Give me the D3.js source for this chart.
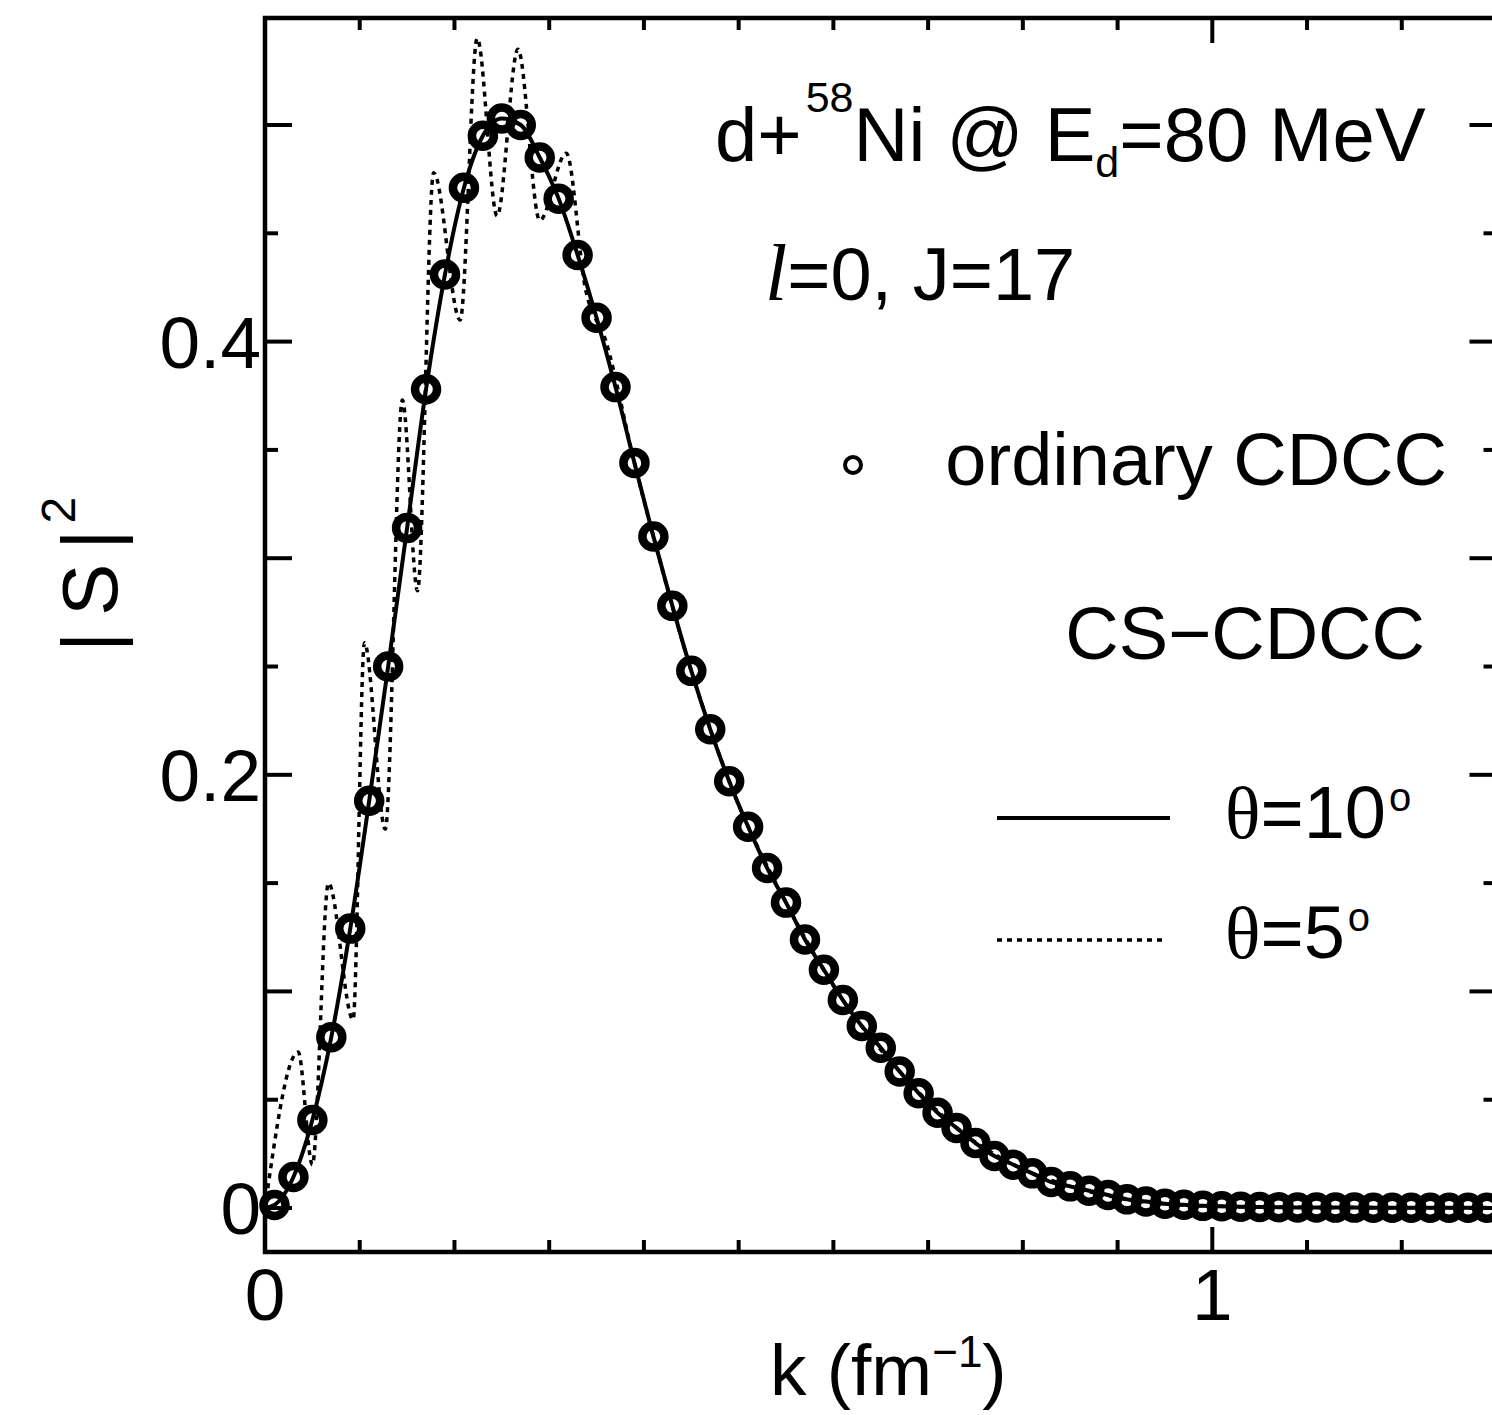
<!DOCTYPE html>
<html>
<head>
<meta charset="utf-8">
<script src="https://cdn.jsdelivr.net/npm/d3@7"></script>
<style>
  body { margin: 0; background: #fff; }
  svg { display: block; font-family: "Liberation Sans", Arial, sans-serif; }
</style>
</head>
<body>
<svg id="chart" width="1492" height="1415"></svg>
<script>
// k grid of the ordinary CDCC points (fm^-1)
const kGrid = [
  0.01, 0.03, 0.05, 0.07, 0.09, 0.11, 0.13, 0.15, 0.17, 0.19,
  0.21, 0.23, 0.25, 0.27, 0.29, 0.31, 0.33, 0.35, 0.37, 0.39,
  0.41, 0.43, 0.45, 0.47, 0.49, 0.51, 0.53, 0.55, 0.57, 0.59,
  0.61, 0.63, 0.65, 0.67, 0.69, 0.71, 0.73, 0.75, 0.77, 0.79,
  0.81, 0.83, 0.85, 0.87, 0.89, 0.91, 0.93, 0.95, 0.97, 0.99,
  1.01, 1.03, 1.05, 1.07, 1.09, 1.11, 1.13, 1.15, 1.17, 1.19,
  1.21, 1.23, 1.25, 1.27, 1.29
];
// |S|^2, ordinary CDCC (circles)
const ordinaryS2 = [
  0.0014, 0.0143, 0.0406, 0.0789, 0.129, 0.188, 0.250, 0.314, 0.378, 0.431,
  0.471, 0.495, 0.503, 0.500, 0.485, 0.466, 0.440, 0.411, 0.379, 0.344,
  0.310, 0.278, 0.248, 0.221, 0.197, 0.176, 0.157, 0.141, 0.124, 0.110,
  0.096, 0.084, 0.074, 0.063, 0.053, 0.044, 0.037, 0.030, 0.024, 0.020,
  0.016, 0.012, 0.010, 0.008, 0.006, 0.004, 0.003, 0.002, 0.0015, 0.001,
  0.0008, 0.0006, 0.0005, 0.0004, 0.0003, 0.0003, 0.0002, 0.0002, 0.0001, 0.0001,
  0.0001, 0.0001, 0.0001, 0.0001, 0.0001
];
// CS-CDCC theta=10 deg (solid) lies on the circles
const cs10K = [0].concat(kGrid);
const cs10S2 = [0].concat(ordinaryS2);
// CS-CDCC theta=5 deg (dotted), read at its turning points
const cs5K = [
  0, 0.035, 0.05, 0.067, 0.093, 0.105, 0.127, 0.145, 0.161, 0.178,
  0.206, 0.224, 0.245, 0.267, 0.290, 0.318, 0.338, 0.36, 0.39, 0.41,
  0.45, 0.49, 0.55, 0.61, 0.67, 0.73, 0.79, 0.85, 0.91, 0.99, 1.1, 1.29
];
const cs5S2 = [
  0, 0.072, 0.020, 0.150, 0.087, 0.261, 0.175, 0.373, 0.285, 0.478,
  0.410, 0.540, 0.458, 0.535, 0.456, 0.487, 0.425, 0.400, 0.344, 0.310,
  0.248, 0.197, 0.141, 0.096, 0.063, 0.037, 0.020, 0.010, 0.004, 0.001, 0.0003, 0.0001
];

const xMajorTicks = [0, 1];
const xMinorTicks = [0.1, 0.2, 0.3, 0.4, 0.5, 0.6, 0.7, 0.8, 0.9, 1.1, 1.2];
const xTickLabels = [0, 1];
const yMajorTicks = [0, 0.1, 0.2, 0.3, 0.4, 0.5];
const yMinorTicks = [0.05, 0.15, 0.25, 0.35, 0.45];
const yTickLabels = [0, 0.2, 0.4];

const svg = d3.select("#chart");
const x = d3.scaleLinear().domain([0, 1.3]).range([265, 1496.5]);
const y = d3.scaleLinear().domain([-0.0203, 0.5494]).range([1252, 18]);
const fmt = (d) => (d === 0 ? "0" : d3.format(".1~f")(d));

// frame
svg.append("rect")
  .attr("x", x(0)).attr("y", y(0.5494))
  .attr("width", x(1.3) - x(0)).attr("height", y(-0.0203) - y(0.5494))
  .attr("fill", "none").attr("stroke", "#000").attr("stroke-width", 4.5);

const ticks = svg.append("g").attr("stroke", "#000").attr("stroke-width", 4);
function yTicks(vals, len) {
  ticks.append("g").selectAll("line").data(vals).join("line")
    .attr("x1", x(0)).attr("x2", x(0) + len)
    .attr("y1", (d) => y(d)).attr("y2", (d) => y(d));
  ticks.append("g").selectAll("line").data(vals).join("line")
    .attr("x1", x(1.3)).attr("x2", x(1.3) - len)
    .attr("y1", (d) => y(d)).attr("y2", (d) => y(d));
}
function xTicks(vals, len) {
  ticks.append("g").selectAll("line").data(vals).join("line")
    .attr("x1", (d) => x(d)).attr("x2", (d) => x(d))
    .attr("y1", y(-0.0203)).attr("y2", y(-0.0203) - len);
  ticks.append("g").selectAll("line").data(vals).join("line")
    .attr("x1", (d) => x(d)).attr("x2", (d) => x(d))
    .attr("y1", y(0.5494)).attr("y2", y(0.5494) + len);
}
yTicks(yMajorTicks, 27);
yTicks(yMinorTicks, 13);
xTicks(xMajorTicks, 25);
xTicks(xMinorTicks, 12);

// tick labels
svg.append("g").selectAll("text").data(yTickLabels).join("text")
  .attr("x", 261).attr("y", (d) => y(d) + 26)
  .attr("text-anchor", "end").attr("font-size", 73)
  .text(fmt);
svg.append("g").selectAll("text").data(xTickLabels).join("text")
  .attr("x", (d) => x(d)).attr("y", 1320)
  .attr("text-anchor", "middle").attr("font-size", 73)
  .text(fmt);

// axis titles
const xl = svg.append("text").attr("x", 770).attr("y", 1395).attr("font-size", 73);
xl.append("tspan").text("k (fm");
xl.append("tspan").attr("font-size", 44).attr("dy", -28).text("\u22121");
xl.append("tspan").attr("dy", 28).text(")");

const yl = svg.append("text").attr("font-size", 78)
  .attr("transform", "translate(117,652) rotate(-90)");
yl.append("tspan").text("|");
yl.append("tspan").attr("dx", 16).text("S");
yl.append("tspan").attr("dx", 14).text("|");
yl.append("tspan").attr("font-size", 48).attr("dy", -42).attr("dx", 6).text("2");

// data
const plot = svg.append("g");
plot.append("path")
  .datum(cs5K.map((k, i) => [k, cs5S2[i]]))
  .attr("fill", "none").attr("stroke", "#000").attr("stroke-width", 3.5)
  .attr("stroke-dasharray", "5,5")
  .attr("d", d3.line().x((d) => x(d[0])).y((d) => y(d[1])).curve(d3.curveMonotoneX));
plot.append("path")
  .datum(cs10K.map((k, i) => [k, cs10S2[i]]))
  .attr("fill", "none").attr("stroke", "#000").attr("stroke-width", 4)
  .attr("d", d3.line().x((d) => x(d[0])).y((d) => y(d[1])).curve(d3.curveMonotoneX));
plot.append("g").selectAll("circle").data(kGrid).join("circle")
  .attr("cx", (d) => x(d)).attr("cy", (d, i) => y(ordinaryS2[i]))
  .attr("r", 11).attr("fill", "none").attr("stroke", "#000").attr("stroke-width", 8.5);

// annotations and legend
const t1 = svg.append("text").attr("x", 715).attr("y", 161).attr("font-size", 76);
t1.append("tspan").text("d+");
t1.append("tspan").attr("font-size", 43).attr("dy", -49).attr("dx", 4).text("58");
t1.append("tspan").attr("dy", 49).text("Ni @ E");
t1.append("tspan").attr("font-size", 43).attr("dy", 16).text("d");
t1.append("tspan").attr("dy", -16).text("=80 MeV");

const t2 = svg.append("text").attr("x", 765).attr("y", 300).attr("font-size", 74);
t2.append("tspan").attr("font-family", "Liberation Serif, serif")
  .attr("font-style", "italic").attr("font-size", 80).text("l");
t2.append("tspan").text("=0, J=17");

svg.append("circle").attr("cx", 853).attr("cy", 465).attr("r", 8)
  .attr("fill", "none").attr("stroke", "#000").attr("stroke-width", 4);
svg.append("text").attr("x", 1447).attr("y", 485).attr("text-anchor", "end")
  .attr("font-size", 74).text("ordinary CDCC");
svg.append("text").attr("x", 1425).attr("y", 659).attr("text-anchor", "end")
  .attr("font-size", 74).text("CS\u2212CDCC");

svg.append("line").attr("x1", 997).attr("x2", 1170).attr("y1", 818).attr("y2", 818)
  .attr("stroke", "#000").attr("stroke-width", 4);
svg.append("line").attr("x1", 997).attr("x2", 1163).attr("y1", 940).attr("y2", 940)
  .attr("stroke", "#000").attr("stroke-width", 3.5).attr("stroke-dasharray", "5,5");

function thetaLabel(yBase, deg) {
  const t = svg.append("text").attr("x", 1225).attr("y", yBase).attr("font-size", 74);
  t.append("tspan").attr("font-family", "Liberation Serif, serif").text("\u03b8");
  t.append("tspan").text("=" + deg);
  t.append("tspan").attr("font-size", 40).attr("dy", -27).attr("dx", 3).text("o");
}
thetaLabel(838, "10");
thetaLabel(958, "5");
</script>
</body>
</html>
